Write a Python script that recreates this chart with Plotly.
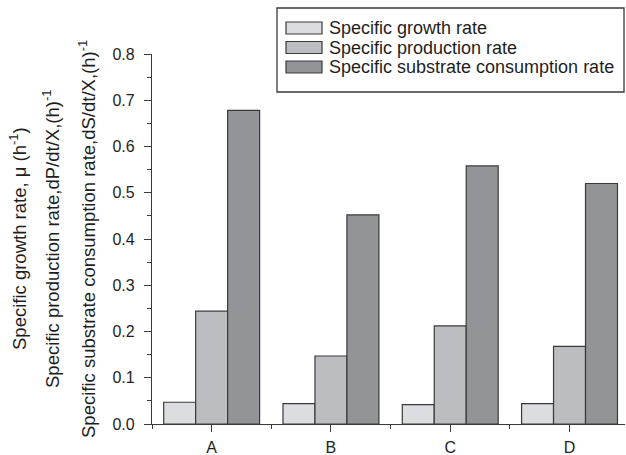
import plotly.graph_objects as go

categories = ["A", "B", "C", "D"]
growth_rate = [0.047, 0.044, 0.042, 0.044]
production_rate = [0.244, 0.147, 0.212, 0.168]
substrate_rate = [0.678, 0.452, 0.558, 0.52]
series_names = ["Specific growth rate", "Specific production rate",
                "Specific substrate consumption rate"]
y_ticks = [0.0, 0.1, 0.2, 0.3, 0.4, 0.5, 0.6, 0.7, 0.8]

colors = ["#dcdde0", "#bcbdc1", "#939498"]
edge = "#3a3a3a"
txt = "#1e1e1e"
W, H = 626, 455
L, R, T, B = 152, 1, 54, 31
pw, ph = W - L - R, H - T - B

def px(x):
    return (x - L) / pw

def py(y):
    return (H - B - y) / ph

xpos = list(range(len(categories)))
fig = go.Figure()
for name, vals, c in zip(series_names, [growth_rate, production_rate, substrate_rate], colors):
    fig.add_trace(go.Bar(x=xpos, y=vals, name=name, marker=dict(color=c, line=dict(color=edge, width=1.2)),
                         showlegend=False))

font = "Liberation Sans, Arial, sans-serif"
fig.update_layout(
    width=W, height=H, margin=dict(l=L, r=R, t=T, b=B, autoexpand=False),
    paper_bgcolor="white", plot_bgcolor="white",
    barmode="group", bargap=0.196, bargroupgap=0,
    font=dict(family=font, size=16, color=txt),
    xaxis=dict(range=[-0.5, 3.465], tickmode="array", tickvals=xpos, ticktext=categories,
               ticks="outside", ticklen=7, tickwidth=1.3, tickcolor=edge,
               showline=True, linecolor=edge, linewidth=1.3, showgrid=False, zeroline=False,
               ticklabelstandoff=2, tickfont=dict(size=16),
               minor=dict(tickmode="array", tickvals=[-0.5, 0.5, 1.5, 2.5, 3.5], ticks="outside",
                          ticklen=4, tickwidth=1.3, tickcolor=edge, showgrid=False)),
    yaxis=dict(range=[0, 0.8], tickmode="array", tickvals=y_ticks, tickformat=".1f",
               ticks="outside", ticklen=7, tickwidth=1.3, tickcolor=edge,
               showline=True, linecolor=edge, linewidth=1.3, showgrid=False, zeroline=False,
               ticklabelstandoff=6, tickfont=dict(size=16),
               minor=dict(dtick=0.05, ticks="outside", ticklen=4, tickwidth=1.3, tickcolor=edge,
                          showgrid=False)),
)

titles = ["Specific growth rate, \u03bc (h<sup>-1</sup>)",
          "Specific production rate,dP/dt/X,(h)<sup>-1</sup>",
          "Specific substrate consumption rate,dS/dt/X,(h)<sup>-1</sup>"]
title_x = [18, 51, 87]
for t, xc in zip(titles, title_x):
    fig.add_annotation(text=t, textangle=-90, xref="paper", yref="paper", x=px(xc), y=py(239),
                       xanchor="center", yanchor="middle", showarrow=False,
                       font=dict(size=18.5, color=txt, family=font))

# legend box
fig.add_shape(type="rect", xref="paper", yref="paper", x0=px(277), x1=px(624), y0=py(92), y1=py(8),
              line=dict(color=edge, width=1.3), fillcolor="white", layer="above")
row_y = [28, 47.5, 67]
for name, c, ry in zip(series_names, colors, row_y):
    fig.add_shape(type="rect", xref="paper", yref="paper", x0=px(286), x1=px(322),
                  y0=py(ry + 6), y1=py(ry - 6), line=dict(color=edge, width=1.2), fillcolor=c,
                  layer="above")
    fig.add_annotation(text=name, xref="paper", yref="paper", x=px(327), y=py(ry),
                       xanchor="left", yanchor="middle", showarrow=False,
                       font=dict(size=18, color=txt, family=font))

fig.write_html("out.html", config={"displayModeBar": False},
               post_script="document.body.style.margin='0';document.body.style.overflow='hidden';")
